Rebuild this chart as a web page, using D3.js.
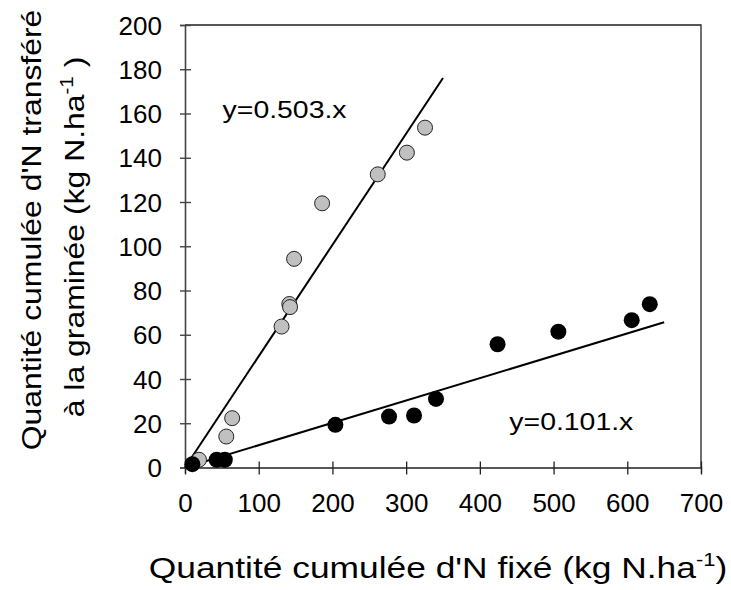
<!DOCTYPE html>
<html>
<head>
<meta charset="utf-8">
<script src="https://cdn.jsdelivr.net/npm/d3@7"></script>
<style>
  body { margin: 0; background: #fff; }
  text { font-family: "Liberation Sans", Arial, sans-serif; fill: #000; }
</style>
</head>
<body>
<div id="chart-container"></div>
<script>
(function () {
    'use strict';

    // gray points: N fixed vs N transferred (first series)
    var grayX = [19, 56, 64, 131, 141.5, 142.5, 148, 186, 261.5, 301, 325.6];
    var grayY = [3.5, 14, 22.3, 63.7, 73.9, 72.5, 94.3, 119.4, 132.5, 142.3, 153.6];
    // black points (second series)
    var blackX = [10, 43, 54, 204, 276.8, 310.7, 340.5, 424, 506.5, 606, 630.5];
    var blackY = [1.5, 3.5, 3.5, 19.3, 23, 23.5, 31, 55.7, 61.4, 66.6, 73.8];
    // regression slopes and end of fitted lines
    var slopes = [0.503, 0.101];
    var lineEnds = [350, 650];
    var eqLabels = ['y=0.503.x', 'y=0.101.x'];
    var eqPos = [[51, 158], [440, 17]];
    var xTicks = [0, 100, 200, 300, 400, 500, 600, 700];
    var yTicks = [0, 20, 40, 60, 80, 100, 120, 140, 160, 180, 200];

    var width = 731;
    var height = 590;

    var x = d3.scaleLinear().domain([0, 700]).range([185, 701]);
    var y = d3.scaleLinear().domain([0, 200]).range([467.5, 25]);

    var svg = d3.select('#chart-container')
        .append('svg')
        .attr('width', width)
        .attr('height', height);

    // frame (top and right)
    svg.append('path')
        .attr('d', 'M' + x(0) + ',' + y(200) + 'H' + x(700) + 'V' + y(0))
        .attr('fill', 'none')
        .attr('stroke', '#222')
        .attr('stroke-width', 1.3);

    // axes
    var yAxis = svg.append('g')
        .attr('transform', 'translate(' + x(0) + ',0)')
        .call(d3.axisLeft(y).tickValues(yTicks).tickSize(5).tickPadding(18));
    yAxis.select('.domain').attr('stroke', '#444').attr('stroke-width', 1.6);
    yAxis.selectAll('.tick line').attr('x2', -5).attr('x1', 6).attr('stroke', '#444').attr('stroke-width', 1.4);
    yAxis.selectAll('.tick text')
        .style('font-size', '26px')
        .style('font-family', '"Liberation Sans", Arial, sans-serif')
        .attr('dy', '0.35em');

    var xAxis = svg.append('g')
        .attr('transform', 'translate(0,' + y(0) + ')')
        .call(d3.axisBottom(x).tickValues(xTicks).tickSize(6).tickPadding(20));
    xAxis.select('.domain').attr('stroke', '#222').attr('stroke-width', 1.3);
    xAxis.selectAll('.tick line').attr('y1', -6).attr('y2', 7).attr('stroke', '#222').attr('stroke-width', 1.3);
    xAxis.selectAll('.tick text')
        .style('font-size', '26px')
        .style('font-family', '"Liberation Sans", Arial, sans-serif');

    // fitted lines
    slopes.forEach(function (s, i) {
        svg.append('line')
            .attr('x1', x(0))
            .attr('y1', y(0))
            .attr('x2', x(lineEnds[i]))
            .attr('y2', y(s * lineEnds[i]))
            .attr('stroke', '#000')
            .attr('stroke-width', 2);
    });

    // points
    svg.append('g')
        .selectAll('circle')
        .data(grayX.map(function (d, i) { return [d, grayY[i]]; }))
        .enter()
        .append('circle')
        .attr('cx', function (d) { return x(d[0]); })
        .attr('cy', function (d) { return y(d[1]); })
        .attr('r', 7.5)
        .attr('fill', '#c0c0c0')
        .attr('stroke', '#222')
        .attr('stroke-width', 1);

    svg.append('g')
        .selectAll('circle')
        .data(blackX.map(function (d, i) { return [d, blackY[i]]; }))
        .enter()
        .append('circle')
        .attr('cx', function (d) { return x(d[0]); })
        .attr('cy', function (d) { return y(d[1]); })
        .attr('r', 8)
        .attr('fill', '#000');

    // equation labels
    eqLabels.forEach(function (t, i) {
        svg.append('text')
            .attr('transform', 'translate(' + x(eqPos[i][0]) + ',' + y(eqPos[i][1]) + ') scale(1.16,1)')
            .style('font-size', '24.5px')
            .text(t);
    });

    // x title
    var xt = svg.append('text')
        .attr('transform', 'translate(438,578) scale(1.22,1)')
        .attr('text-anchor', 'middle')
        .style('font-size', '29px');
    xt.append('tspan').text("Quantité cumulée d'N fixé (kg N.ha");
    xt.append('tspan').attr('dy', -12).style('font-size', '18px').text('-1');
    xt.append('tspan').attr('dy', 12).text(')');

    // y title (two lines)
    svg.append('text')
        .attr('transform', 'translate(41,230) rotate(-90) scale(1.14,1)')
        .attr('text-anchor', 'middle')
        .style('font-size', '28px')
        .text("Quantité cumulée d'N transféré");

    var yt2 = svg.append('text')
        .attr('transform', 'translate(84,237) rotate(-90) scale(1.14,1)')
        .attr('text-anchor', 'middle')
        .style('font-size', '28px');
    yt2.append('tspan').text('à la graminée (kg N.ha');
    yt2.append('tspan').attr('dy', -11).style('font-size', '18px').text('-1');
    yt2.append('tspan').attr('dy', 11).text(' )');
}());
</script>
</body>
</html>
